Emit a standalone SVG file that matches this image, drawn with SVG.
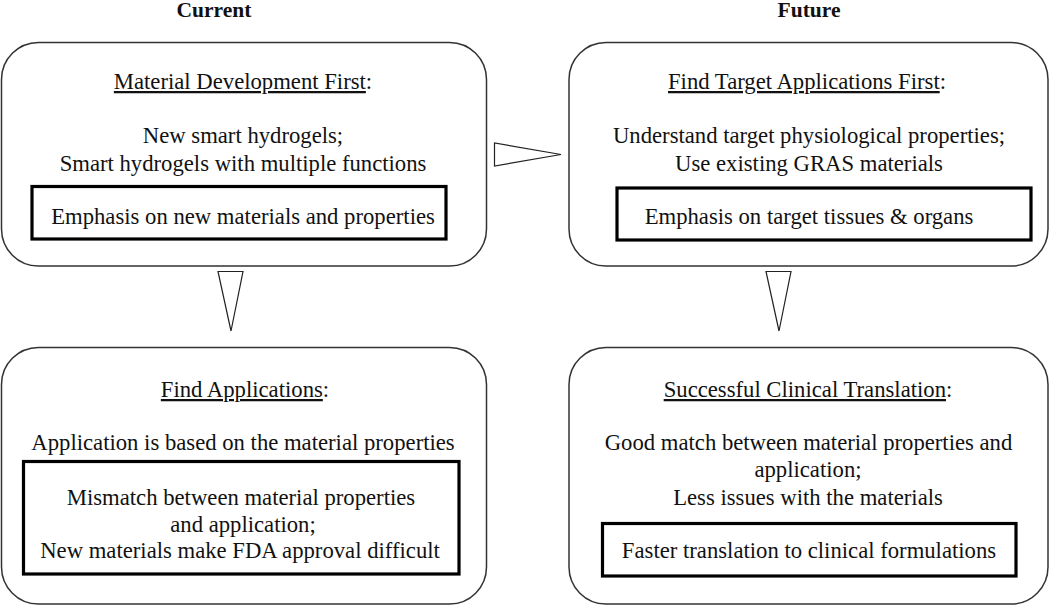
<svg xmlns="http://www.w3.org/2000/svg" width="1050" height="606" viewBox="0 0 1050 606">
<style>
text{font-family:"Liberation Serif","Times New Roman",serif;font-size:22.7px;fill:#111;text-anchor:middle}
.hd{font-weight:bold;font-size:21.5px}
.u{text-decoration:underline}
.outer{fill:#fff;stroke:#333;stroke-width:1.5}
.inner{fill:none;stroke:#000;stroke-width:3.2}
.tri{fill:#fff;stroke:#222;stroke-width:1.2;stroke-linejoin:miter}
</style>
<rect width="1050" height="606" fill="#fff"/>
<text class="hd" x="214" y="17">Current</text>
<text class="hd" x="809" y="17">Future</text>
<g id="connectors">
<polygon class="tri" points="494.5,143 494.5,166 561,154.5"/>
<polygon class="tri" points="218,271.5 243,271.5 231,331"/>
<polygon class="tri" points="766,271.5 791,271.5 779,331"/>
</g>
<g id="node-material-development">
<rect class="outer" x="1.5" y="42.5" width="485" height="223.5" rx="37"/>
<text x="243" y="89"><tspan class="u">Material Development First</tspan>:</text>
<text x="243" y="143">New smart hydrogels;</text>
<text x="243" y="171">Smart hydrogels with multiple functions</text>
<rect class="inner" x="32" y="186.5" width="414" height="52.5"/>
<text x="243" y="224">Emphasis on new materials and properties</text>
</g>
<g id="node-find-target">
<rect class="outer" x="569" y="42.5" width="479" height="223.5" rx="37"/>
<text x="807" y="89"><tspan class="u">Find Target Applications First</tspan>:</text>
<text x="809" y="143">Understand target physiological properties;</text>
<text x="809" y="171">Use existing GRAS materials</text>
<rect class="inner" x="617" y="188" width="414" height="52"/>
<text x="809" y="224">Emphasis on target tissues &amp; organs</text>
</g>
<g id="node-find-applications">
<rect class="outer" x="1.5" y="347.5" width="485" height="256.5" rx="37"/>
<text x="245" y="397"><tspan class="u">Find Applications</tspan>:</text>
<text x="243" y="450">Application is based on the material properties</text>
<rect class="inner" x="23.5" y="461.5" width="435.5" height="112.5"/>
<text x="241" y="505">Mismatch between material properties</text>
<text x="243" y="532">and application;</text>
<text x="240" y="558">New materials make FDA approval difficult</text>
</g>
<g id="node-clinical-translation">
<rect class="outer" x="569" y="347.5" width="479" height="256.5" rx="37"/>
<text x="808" y="397"><tspan class="u">Successful Clinical Translation</tspan>:</text>
<text x="808.5" y="450">Good match between material properties and</text>
<text x="808" y="477">application;</text>
<text x="808" y="505">Less issues with the materials</text>
<rect class="inner" x="602.5" y="523.5" width="413.5" height="52.5"/>
<text x="809" y="558">Faster translation to clinical formulations</text>
</g>
</svg>
